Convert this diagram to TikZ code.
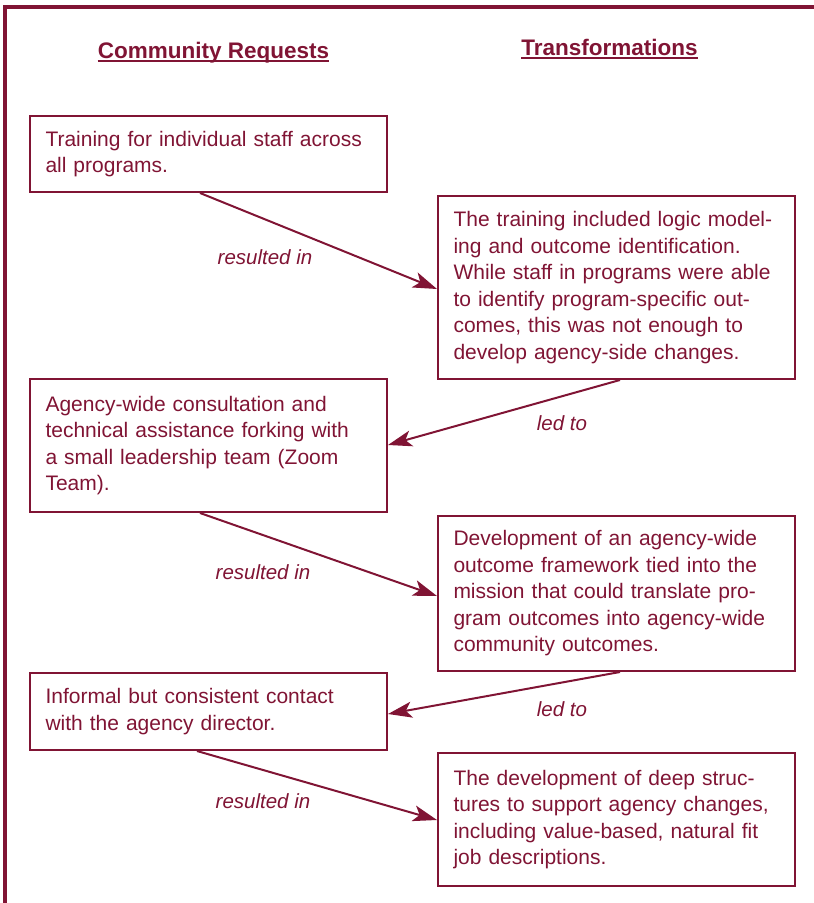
\documentclass[tikz,border=0pt]{standalone}
\usepackage{fontspec}
\setmainfont{Liberation Sans}
\usetikzlibrary{arrows.meta,calc}
\definecolor{maroon}{RGB}{128,20,52}
\newcommand{\bodyfont}{\fontsize{21}{26.5}\selectfont}
\newcommand{\lns}[1]{\noindent\begin{tabular}{@{}l@{}}#1\end{tabular}}
\begin{document}
\begin{tikzpicture}[x=1pt,y=-1pt,
  box/.style={draw=maroon, line width=2pt, anchor=north west, minimum height=#1,
    text width=326pt, inner xsep=15.5pt, inner ysep=0pt, font=\bodyfont, text=maroon},
  head/.style={anchor=base, inner sep=0pt, font=\fontsize{22.5}{26}\selectfont\bfseries, text=maroon},
  lbl/.style={inner sep=0pt, font=\fontsize{20.5}{24}\selectfont\itshape, text=maroon},
  arr/.style={draw=maroon, line width=2pt, -{Stealth[length=24pt,width=16pt,inset=6pt]}},
  uline/.style={draw=maroon, line width=2pt}]
\useasboundingbox (0,0) rectangle (814,903);
\draw[maroon, line width=3.5pt] (5,905) -- (5,7) -- (816,7);

\node[head] (h1) at (213.5,58) {Community Requests};
\node[head] (h2) at (609.5,55) {Transformations};
\draw[uline] ($(h1.base west)+(0,3)$) -- ($(h1.base east)+(0,3)$);
\draw[uline] ($(h2.base west)+(0,3)$) -- ($(h2.base east)+(0,3)$);

\node[box=76pt] (b1) at (29,115) {\lns{Training for individual staff across\\all programs.}};
\node[box=183pt] (b2) at (437,195) {\lns{The training included logic model-\\ing and outcome identification.\\While staff in programs were able\\to identify program-specific out-\\comes, this was not enough to\\develop agency-side changes.}};
\node[box=133pt] (b3) at (29,378) {\lns{Agency-wide consultation and\\technical assistance forking with\\a small leadership team (Zoom\\Team).}};
\node[box=155pt] (b4) at (437,515) {\lns{Development of an agency-wide\\outcome framework tied into the\\mission that could translate pro-\\gram outcomes into agency-wide\\community outcomes.}};
\node[box=77pt] (b5) at (29,672) {\lns{Informal but consistent contact\\with the agency director.}};
\node[box=133pt] (b6) at (437,752) {\lns{The development of deep struc-\\tures to support agency changes,\\including value-based, natural fit\\job descriptions.}};

\draw[arr] ($(b1.south west)+(171,0)$) -- ($(b2.north west)+(0,94)$);
\draw[arr] ($(b2.south west)+(183,0)$) -- ($(b3.north east)+(0,67)$);
\draw[arr] ($(b3.south west)+(171,0)$) -- ($(b4.north west)+(0,81)$);
\draw[arr] ($(b4.south west)+(183,0)$) -- ($(b5.north east)+(0,42)$);
\draw[arr] ($(b5.south west)+(168,0)$) -- ($(b6.north west)+(0,68)$);

\node[lbl] (l1) at (265,257) {resulted in};
\node[lbl] (l2) at (562,423) {led to};
\node[lbl] (l3) at (263,572) {resulted in};
\node[lbl] (l4) at (562,709) {led to};
\node[lbl] (l5) at (263,801) {resulted in};
\end{tikzpicture}
\end{document}
